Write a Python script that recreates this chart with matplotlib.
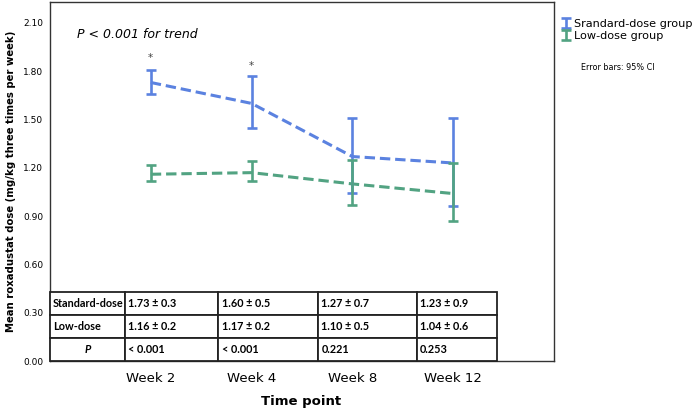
import numpy as np
import matplotlib
matplotlib.use("Agg")
import matplotlib.pyplot as plt
from matplotlib.legend_handler import HandlerErrorbar

# data
weeks = ["Week 2", "Week 4", "Week 8", "Week 12"]
std_mean = [1.73, 1.60, 1.27, 1.23]
std_lo = [1.66, 1.45, 1.045, 0.96]
std_hi = [1.81, 1.77, 1.51, 1.51]
low_mean = [1.16, 1.17, 1.10, 1.04]
low_lo = [1.12, 1.12, 0.97, 0.87]
low_hi = [1.22, 1.24, 1.25, 1.23]
std_sd = [0.3, 0.5, 0.7, 0.9]
low_sd = [0.2, 0.2, 0.5, 0.6]
p_values = ["< 0.001", "< 0.001", "0.221", "0.253"]
star_weeks = [0, 1]
star_y = [1.88, 1.83]
yticks = [0.0, 0.3, 0.6, 0.9, 1.2, 1.5, 1.8, 2.1]

BLUE = "#5b82e0"
GREEN = "#52a382"

fig = plt.figure(figsize=(6.97, 4.11), dpi=100)
ax = fig.add_axes([50 / 697, 50 / 411, 504 / 697, 359 / 411])

x = np.arange(len(weeks))


def draw_group(mean, lo, hi, color, label):
    yerr = [np.array(mean) - np.array(lo), np.array(hi) - np.array(mean)]
    ax.plot(x, mean, color=color, lw=2.2, dashes=(3.4, 1.6), zorder=3)
    h = ax.errorbar(x, mean, yerr=yerr, fmt="none", ecolor=color,
                    elinewidth=1.9, capsize=3.6, capthick=1.9, zorder=4,
                    label=label)
    return h


h1 = draw_group(std_mean, std_lo, std_hi, BLUE, "Srandard-dose group")
h2 = draw_group(low_mean, low_lo, low_hi, GREEN, "Low-dose group")

for i, yy in zip(star_weeks, star_y):
    ax.text(x[i], yy, "*", ha="center", va="center", fontsize=7.5, color="#444444")

ax.text(-0.73, 2.03, "P < 0.001 for trend", style="italic", fontsize=9,
        ha="left", va="center")

ax.set_xlim(-1, 4)
ax.set_ylim(0, 2.23)
ax.set_yticks(yticks)
ax.set_yticklabels([f"{v:.2f}" for v in yticks], fontsize=6.5)
ax.set_xticks(x)
ax.set_xticklabels(weeks, fontsize=9.5)
ax.tick_params(axis="y", length=0, pad=5)
ax.tick_params(axis="x", length=0, pad=8)
for sp in ax.spines.values():
    sp.set_color("#333333")
    sp.set_linewidth(1.0)

fig.text(11 / 697, 1 - 181 / 411,
         "Mean roxadustat dose (mg/kg three times per week)",
         rotation=90, ha="center", va="center", fontsize=7.3, fontweight="bold")
fig.text(301 / 697, 1 - 401 / 411, "Time point", ha="center", va="center",
         fontsize=9.5, fontweight="bold")

# table inside the axes
cell_text = [["Standard-dose"] + [f"{m:.2f} ± {s}" for m, s in zip(std_mean, std_sd)],
             ["Low-dose"] + [f"{m:.2f} ± {s}" for m, s in zip(low_mean, low_sd)],
             ["P"] + p_values]
col_px = [75, 93, 100, 99, 80]
col_w = [c / 504 for c in col_px]
tbl = ax.table(cellText=cell_text, colWidths=col_w, cellLoc="left",
               bbox=[0, 0, sum(col_w), 69 / 359], zorder=5)
tbl.auto_set_font_size(False)
tbl.set_fontsize(7.8)
for (r, c), cell in tbl.get_celld().items():
    cell.set_linewidth(1.3)
    cell.set_edgecolor("#222222")
    cell.PAD = 0.035
    cell.get_text().set_fontfamily("Lato")
    cell.get_text().set_fontweight("bold")
    if r == 2 and c == 0:
        cell.get_text().set_ha("center")
        cell._loc = "center"
        cell.get_text().set_style("italic")

leg = fig.legend(handles=[h1, h2], loc="upper left",
                 bbox_to_anchor=(564 / 697, 1 - 19 / 411), frameon=False,
                 fontsize=8.1, handlelength=0.4, handletextpad=0.5,
                 labelspacing=0.2, borderaxespad=0, borderpad=0,
                 handler_map={type(h1): HandlerErrorbar(xerr_size=0.3, yerr_size=0.45)})
fig.text(581 / 697, 1 - 67 / 411, "Error bars: 95% CI", fontsize=5.8,
         ha="left", va="center")

fig.savefig("out.png", dpi=100)
